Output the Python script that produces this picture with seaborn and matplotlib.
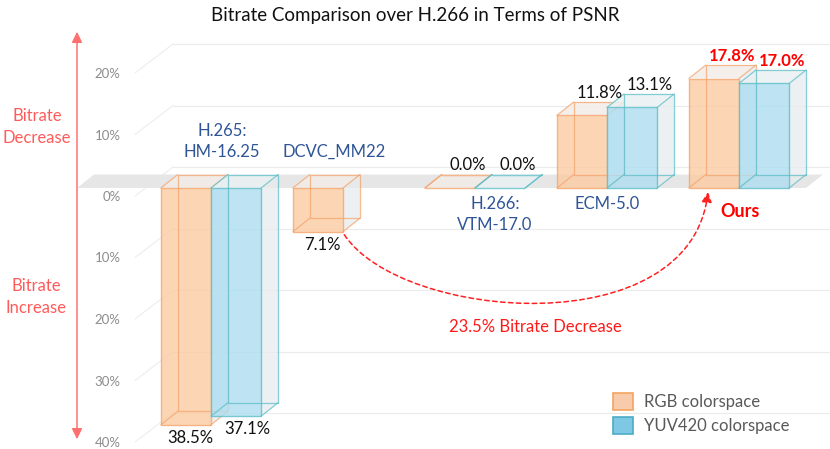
import matplotlib
matplotlib.use("Agg")
import matplotlib.pyplot as plt
import numpy as np
import pandas as pd
import seaborn as sns
from matplotlib.patches import Polygon, Patch, FancyArrowPatch
from matplotlib.path import Path

# Data: bitrate saving over H.266 (positive = bitrate decrease)
methods = ["H.265:\nHM-16.25", "DCVC_MM22", "H.266:\nVTM-17.0", "ECM-5.0", "Ours"]
rgb_vals = [-38.5, -7.1, 0.0, 11.8, 17.8]
yuv_vals = [-37.1, np.nan, 0.0, 13.1, 17.0]
spaces = ["RGB colorspace", "YUV420 colorspace"]
tick_vals = [20, 10, 0, -10, -20, -30, -40]
gain_text = "23.5% Bitrate Decrease"

rows = []
for m, r, y in zip(methods, rgb_vals, yuv_vals):
    rows.append((m, spaces[0], r))
    if not np.isnan(y):
        rows.append((m, spaces[1], y))
df = pd.DataFrame(rows, columns=["method", "space", "value"])

sns.set_style("white")
plt.rcParams['font.family'] = ['Lato', 'DejaVu Sans']

W, H = 830, 449
PX_X = 132.0   # pixels per category
PX_Y = 6.15    # pixels per percent
X0, Y0 = 211.0, 188.0   # pixel of category 0 centre / value 0 (bar front plane)
DX, DY = 17 / PX_X, 13.5 / PX_Y          # bar depth
WX, WY = 38 / PX_X, 29 / PX_Y            # full wall depth (label plane -> back wall)
LBL_DY = 8 / PX_Y                        # label plane in front of bars

fig = plt.figure(figsize=(W / 100, H / 100), dpi=100)
left_px = 135
ax = fig.add_axes([left_px / W, 0, 1 - left_px / W, 1])

face = {spaces[0]: "#FCCCA2", spaces[1]: "#AEDEF1"}
edge = {spaces[0]: "#F4A46C", spaces[1]: "#5DBEC8"}
top_face = {spaces[0]: "#F4EDE8", spaces[1]: "#EAF1F3"}
neg_label_dx = {spaces[0]: 4 / PX_X, spaces[1]: 11 / PX_X}

sns.barplot(data=df, x="method", y="value", hue="space", hue_order=spaces,
            palette=face, width=0.76, saturation=1, legend=False, ax=ax,
            order=methods, err_kws={"linewidth": 0})

# collect seaborn bars per hue level before adding other patches
bars = []
for sp, cont in zip(spaces, ax.containers):
    for p in cont.patches:
        if np.isfinite(p.get_height()):
            bars.append((p, sp))
bars.sort(key=lambda t: t[0].get_x())

xmin = (left_px - X0) / PX_X
xmax = (W - X0) / PX_X
ax.set_xlim(xmin, xmax)
ax.set_ylim((Y0 - H) / PX_Y, Y0 / PX_Y)
for s in ax.spines.values():
    s.set_visible(False)
ax.set_xticks([])
ax.set_xlabel("")
ax.set_ylabel("")

# y ticks on the label plane
ax.set_yticks([v - LBL_DY for v in tick_vals])
ax.set_yticklabels([f"{abs(v)}%" for v in tick_vals])
ax.tick_params(axis="y", length=0, pad=10.5, labelsize=9.5, labelcolor="#8C8C8C")

# back wall grid + side diagonals
gx0 = xmin + WX
for v in tick_vals:
    yb = v - LBL_DY + WY
    ax.plot([xmin, gx0], [v - LBL_DY, yb], color="#EDEDED", lw=0.8, zorder=0.5, clip_on=False)
    ax.plot([gx0, xmax], [yb, yb], color="#EBEBEB", lw=0.8, zorder=0.5, clip_on=False)

# floor band at 0
bx0, bx1 = (77 - X0) / PX_X, (806 - X0) / PX_X
ax.add_patch(Polygon([(bx0, 0), (bx1, 0), (bx1 + DX, DY), (bx0 + DX, DY)],
                     closed=True, facecolor="#E6E6E6", edgecolor="none", zorder=0.8,
                     clip_on=False))

# 3D boxes from the seaborn bars
bar_info = []
for k, (p, sp) in enumerate(bars):
    x0, w = p.get_x(), p.get_width()
    x1 = x0 + w
    h = p.get_height()
    yb, yt = min(0, h), max(0, h)
    z = 2 + k * 0.1
    ax.add_patch(Polygon([(x1, yb), (x1, yt), (x1 + DX, yt + DY), (x1 + DX, yb + DY)],
                         closed=True, facecolor=(0.91, 0.925, 0.935, 0.75),
                         edgecolor="none", zorder=z))
    ax.add_patch(Polygon([(x0, yt), (x1, yt), (x1 + DX, yt + DY), (x0 + DX, yt + DY)],
                         closed=True, facecolor=top_face[sp], alpha=0.85,
                         edgecolor="none", zorder=z + 0.01))
    p.set_zorder(z + 0.02)
    p.set_alpha(0.8)
    p.set_edgecolor(edge[sp])
    p.set_linewidth(1.0)
    ec = edge[sp]
    segs = [
        [(x0 + DX, yb + DY), (x1 + DX, yb + DY), (x1 + DX, yt + DY), (x0 + DX, yt + DY), (x0 + DX, yb + DY)],
        [(x0, yt), (x0 + DX, yt + DY)], [(x1, yt), (x1 + DX, yt + DY)],
        [(x0, yb), (x0 + DX, yb + DY)], [(x1, yb), (x1 + DX, yb + DY)],
    ]
    for s in segs:
        s = np.array(s)
        ax.plot(s[:, 0], s[:, 1], color=ec, lw=0.9, alpha=0.75, zorder=z + 0.03,
                solid_capstyle="round")
    bar_info.append((x0, x1, h, sp))

# value labels
for x0, x1, h, sp in bar_info:
    xc = (x0 + x1) / 2
    is_ours = x0 > 3.5
    color = "#FF0000" if is_ours else "#111111"
    weight = "bold" if is_ours else "normal"
    if h >= 0:
        ax.text(xc + DX * 1.05, h + DY + 0.2, f"{abs(h):.1f}%", ha="center", va="bottom",
                fontsize=12, color=color, fontweight=weight, zorder=10)
    else:
        ax.text(xc + neg_label_dx[sp], h - 0.8, f"{abs(h):.1f}%", ha="center", va="top",
                fontsize=12, color=color, fontweight=weight, zorder=10)

# category labels
name_dx = [11, -9, 20, 0, 1]
for i, (m, r) in enumerate(zip(methods, rgb_vals)):
    xi = i + name_dx[i] / PX_X
    if m == "Ours":
        ax.text(xi, -2.4, m, ha="center", va="top", fontsize=13, color="#FF0000",
                fontweight="bold", zorder=10)
    elif r < 0:
        ax.text(xi, 4.6, m, ha="center", va="bottom", fontsize=12, color="#2F5597",
                linespacing=1.4, zorder=10)
    else:
        ax.text(xi, -1.3, m, ha="center", va="top", fontsize=12, color="#2F5597",
                linespacing=1.4, zorder=10)

# dashed arrow DCVC -> Ours
start = (1.0 + 0.01, rgb_vals[1] - 0.5)
end = (4 - 0.19 - 0.045, -0.65)
c1 = (start[0] + 0.43, start[1] - 14.0)
c2 = (end[0] - 0.13, end[1] - 24.9)
arrow = FancyArrowPatch(path=Path([start, c1, c2, end],
                                  [Path.MOVETO, Path.CURVE4, Path.CURVE4, Path.CURVE4]),
                        arrowstyle="-|>,head_length=0.5,head_width=0.25", mutation_scale=12,
                        color="#FF2020", lw=1.1, linestyle=(0, (3, 2.2)), zorder=9)
ax.add_patch(arrow)
ax.text((1 + 4) / 2 - 0.045, -22.6, gain_text, ha="center", va="center", fontsize=12,
        color="#FF1A1A", zorder=10)

# left side double arrow and labels (figure coords)
fx = 77 / W
fig.patches.append(FancyArrowPatch((fx, 1 - 442 / H), (fx, 1 - 29 / H),
                                   transform=fig.transFigure, arrowstyle="<|-|>,head_length=0.45,head_width=0.22",
                                   mutation_scale=14, color="#FF7070", lw=1.1))
fig.text(37 / W, 1 - 127 / H, "Bitrate\nDecrease", ha="center", va="center", fontsize=12,
         color="#FF5B5B", linespacing=1.4)
fig.text(36 / W, 1 - 297 / H, "Bitrate\nIncrease", ha="center", va="center", fontsize=12,
         color="#FF5B5B", linespacing=1.4)

fig.text(415 / W, 1 - 15 / H, "Bitrate Comparison over H.266 in Terms of PSNR",
         ha="center", va="center", fontsize=13.5, color="#111111")

handles = [Patch(facecolor="#F8CBAD", edgecolor="#F4A460", lw=1.2),
           Patch(facecolor="#7EC8E3", edgecolor="#4BACC6", lw=1.2)]
ax.legend(handles, spaces, loc="upper left", bbox_to_anchor=(606 / W, 1 - 386 / H),
          bbox_transform=fig.transFigure, frameon=False, fontsize=12,
          handlelength=1.2, handleheight=1.2, handletextpad=0.7, labelspacing=0.4,
          labelcolor="#595959", borderaxespad=0)

fig.savefig("out.png", dpi=100)
